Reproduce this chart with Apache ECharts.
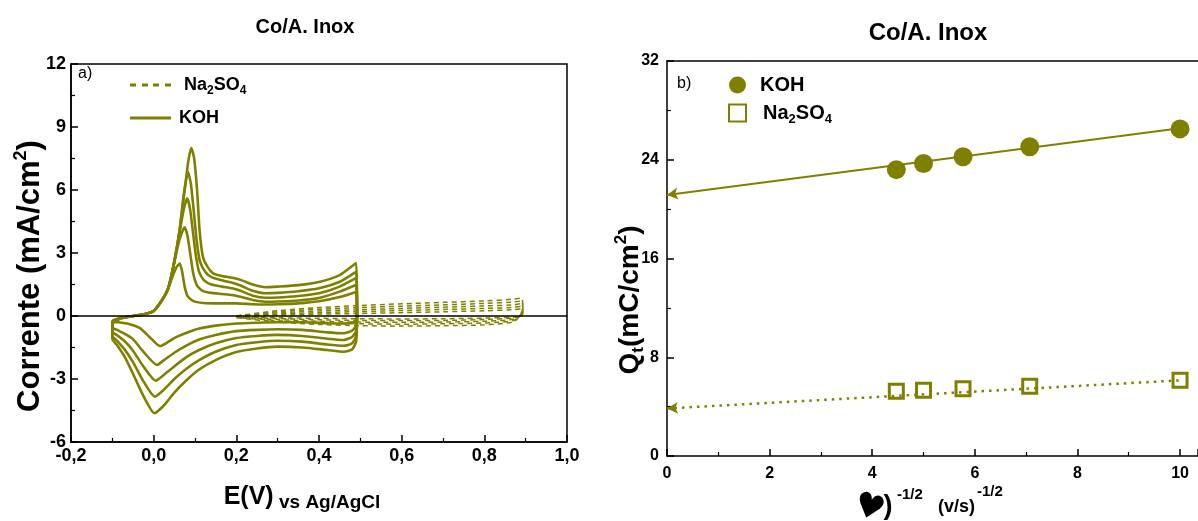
<!DOCTYPE html>
<html><head><meta charset="utf-8">
<script src="https://cdn.jsdelivr.net/npm/echarts@6/dist/echarts.min.js"></script>
<style>html,body{margin:0;padding:0;background:#fff}#c{width:1198px;height:521px}</style>
</head><body><div id="c"></div>
<script>
const OLIVE = '#808000';
const FONT = '"Liberation Sans", Arial, sans-serif';

// ---------- Panel a) cyclic voltammograms: [E (V vs Ag/AgCl), I (mA/cm2)] ----------
const kohCV1 = [[-0.100,-0.35],[-0.08,-0.12],[-0.05,0.0],[-0.02,0.1],[0.0,0.24],[0.02,0.75],[0.035,1.3],[0.05,2.6],[0.063,4.1],[0.075,6.0],[0.084,7.4],[0.091,8.0],[0.098,7.5],[0.105,6.0],[0.111,4.1],[0.119,2.83],[0.13,2.35],[0.144,2.03],[0.165,1.9],[0.19,1.82],[0.21,1.72],[0.24,1.5],[0.27,1.37],[0.30,1.4],[0.35,1.47],[0.40,1.62],[0.45,1.95],[0.49,2.52],
  [0.492,0.5],[0.49,-1.2],[0.48,-1.6],[0.46,-1.7],[0.42,-1.62],[0.36,-1.5],[0.30,-1.46],[0.25,-1.55],[0.20,-1.72],[0.15,-2.1],[0.11,-2.55],[0.08,-3.05],[0.05,-3.65],[0.025,-4.25],[0.002,-4.63],[-0.025,-3.8],[-0.05,-2.75],[-0.07,-1.95],[-0.09,-1.35],[-0.10,-1.1],[-0.100,-0.35]];
const kohCV2 = [[-0.100,-0.32],[-0.08,-0.11],[-0.05,0.0],[-0.02,0.1],[0.0,0.24],[0.02,0.75],[0.035,1.3],[0.05,2.6],[0.062,4.0],[0.073,5.8],[0.083,6.85],[0.09,6.3],[0.097,5.0],[0.104,3.6],[0.112,2.6],[0.125,2.1],[0.14,1.85],[0.165,1.7],[0.19,1.58],[0.21,1.45],[0.24,1.2],[0.27,1.08],[0.30,1.1],[0.35,1.18],[0.40,1.32],[0.45,1.63],[0.49,2.1],
  [0.492,0.3],[0.49,-0.95],[0.48,-1.3],[0.46,-1.42],[0.42,-1.36],[0.36,-1.22],[0.30,-1.18],[0.25,-1.25],[0.20,-1.38],[0.15,-1.7],[0.11,-2.1],[0.08,-2.5],[0.05,-3.0],[0.025,-3.5],[0.003,-3.84],[-0.025,-3.1],[-0.05,-2.2],[-0.07,-1.6],[-0.09,-1.15],[-0.10,-0.95],[-0.100,-0.32]];
const kohCV3 = [[-0.100,-0.28],[-0.08,-0.1],[-0.05,0.0],[-0.02,0.1],[0.0,0.24],[0.02,0.75],[0.035,1.3],[0.05,2.6],[0.062,3.9],[0.072,5.0],[0.081,5.6],[0.088,5.1],[0.095,4.0],[0.102,2.9],[0.11,2.1],[0.122,1.7],[0.14,1.5],[0.165,1.4],[0.19,1.32],[0.21,1.2],[0.24,0.97],[0.27,0.87],[0.30,0.88],[0.35,0.95],[0.40,1.08],[0.45,1.4],[0.49,1.81],
  [0.492,0.2],[0.49,-0.7],[0.48,-1.0],[0.46,-1.14],[0.42,-1.08],[0.36,-0.95],[0.30,-0.9],[0.25,-0.95],[0.20,-1.05],[0.15,-1.3],[0.11,-1.62],[0.08,-1.95],[0.05,-2.4],[0.025,-2.8],[0.005,-3.08],[-0.025,-2.4],[-0.05,-1.65],[-0.07,-1.2],[-0.09,-0.9],[-0.10,-0.75],[-0.100,-0.28]];
const kohCV4 = [[-0.100,-0.25],[-0.08,-0.09],[-0.05,0.0],[-0.02,0.1],[0.0,0.24],[0.02,0.75],[0.035,1.3],[0.05,2.55],[0.062,3.6],[0.075,4.22],[0.082,3.8],[0.089,2.9],[0.096,2.0],[0.105,1.45],[0.118,1.2],[0.14,1.1],[0.165,1.05],[0.19,1.0],[0.21,0.92],[0.24,0.76],[0.27,0.68],[0.30,0.69],[0.35,0.74],[0.40,0.86],[0.45,1.16],[0.49,1.48],
  [0.492,0.1],[0.49,-0.45],[0.48,-0.7],[0.46,-0.82],[0.42,-0.78],[0.36,-0.66],[0.30,-0.63],[0.25,-0.66],[0.20,-0.72],[0.15,-0.9],[0.11,-1.12],[0.08,-1.4],[0.05,-1.75],[0.025,-2.1],[0.008,-2.33],[-0.025,-1.7],[-0.05,-1.1],[-0.07,-0.85],[-0.09,-0.65],[-0.10,-0.55],[-0.100,-0.25]];
const kohCV5 = [[-0.100,-0.22],[-0.08,-0.08],[-0.05,0.0],[-0.02,0.1],[0.0,0.24],[0.02,0.75],[0.035,1.3],[0.047,1.95],[0.056,2.35],[0.063,2.5],[0.069,2.1],[0.075,1.4],[0.082,0.95],[0.095,0.72],[0.12,0.62],[0.16,0.6],[0.2,0.6],[0.24,0.56],[0.27,0.55],[0.30,0.56],[0.35,0.6],[0.40,0.7],[0.45,0.9],[0.49,1.14],
  [0.492,0.1],[0.49,-0.2],[0.48,-0.32],[0.46,-0.36],[0.42,-0.34],[0.36,-0.3],[0.30,-0.3],[0.25,-0.32],[0.20,-0.36],[0.15,-0.46],[0.11,-0.6],[0.08,-0.8],[0.05,-1.05],[0.03,-1.3],[0.015,-1.43],[-0.01,-1.0],[-0.034,-0.57],[-0.06,-0.38],[-0.085,-0.3],[-0.10,-0.28],[-0.100,-0.22]];

const naCV1 = [[0.2,0.0],[0.3,0.25],[0.4,0.4],[0.5,0.5],[0.6,0.58],[0.7,0.65],[0.8,0.72],[0.87,0.8],[0.89,0.85],[0.893,0.4],[0.885,0.0],[0.87,-0.28],[0.8,-0.42],[0.7,-0.46],[0.6,-0.48],[0.5,-0.46],[0.4,-0.4],[0.3,-0.28],[0.2,-0.08]];
const naCV2 = [[0.2,0.0],[0.3,0.2],[0.4,0.32],[0.5,0.4],[0.6,0.47],[0.7,0.53],[0.8,0.6],[0.87,0.66],[0.89,0.72],[0.893,0.3],[0.885,0.0],[0.87,-0.22],[0.8,-0.33],[0.7,-0.37],[0.6,-0.39],[0.5,-0.37],[0.4,-0.32],[0.3,-0.22],[0.2,-0.07]];
const naCV3 = [[0.2,0.0],[0.3,0.15],[0.4,0.24],[0.5,0.3],[0.6,0.36],[0.7,0.42],[0.8,0.48],[0.87,0.53],[0.89,0.6],[0.893,0.2],[0.885,-0.02],[0.87,-0.16],[0.8,-0.25],[0.7,-0.29],[0.6,-0.3],[0.5,-0.29],[0.4,-0.25],[0.3,-0.17],[0.2,-0.06]];
const naCV4 = [[0.2,0.0],[0.3,0.1],[0.4,0.16],[0.5,0.21],[0.6,0.26],[0.7,0.31],[0.8,0.36],[0.87,0.41],[0.89,0.47],[0.893,0.15],[0.885,-0.02],[0.87,-0.1],[0.8,-0.17],[0.7,-0.21],[0.6,-0.22],[0.5,-0.21],[0.4,-0.18],[0.3,-0.12],[0.2,-0.04]];
const naCV5 = [[0.2,0.0],[0.3,0.05],[0.4,0.09],[0.5,0.12],[0.6,0.16],[0.7,0.2],[0.8,0.25],[0.87,0.3],[0.89,0.35],[0.893,0.1],[0.885,-0.02],[0.87,-0.05],[0.8,-0.1],[0.7,-0.13],[0.6,-0.14],[0.5,-0.13],[0.4,-0.11],[0.3,-0.08],[0.2,-0.02]];

const kohCVs = [kohCV1, kohCV2, kohCV3, kohCV4, kohCV5];
const naCVs = [naCV1, naCV2, naCV3, naCV4, naCV5];

// ---------- Panel b) charge vs (scan rate)^-1/2 ----------
const qX   = [4.47, 5.0, 5.77, 7.07, 10.0];
const qKOH = [23.2, 23.7, 24.25, 25.05, 26.5];
const qNa  = [5.24, 5.32, 5.44, 5.65, 6.13];
const fitKOH = [[0, 21.15], [10, 26.55]];
const fitNa  = [[0, 3.85], [10, 6.13]];

const xTicksA = { min: -0.2, max: 1.0, interval: 0.2 };
const yTicksA = { min: -6, max: 12, interval: 3 };
const xTicksB = { min: 0, max: 10.35, interval: 2 };
const yTicksB = { min: 0, max: 32, interval: 8 };

const chart = echarts.init(document.getElementById('c'), null, { renderer: 'canvas' });

const axisCommon = (fs) => ({
  axisLine: { show: true, onZero: false, lineStyle: { color: '#000', width: 1.5 } },
  axisTick: { show: true, inside: true, length: 7, lineStyle: { color: '#000', width: 1.5 } },
  minorTick: { show: true, splitNumber: 2, length: 4, lineStyle: { color: '#000', width: 1.2 } },
  splitLine: { show: false },
  axisLabel: { color: '#000', fontSize: fs, fontWeight: 'bold', fontFamily: FONT }
});

const series = [];
naCVs.forEach((d, i) => series.push({
  type: 'line', name: 'naCV', xAxisIndex: 0, yAxisIndex: 0, data: d,
  symbol: 'none', smooth: 0.3, silent: true,
  lineStyle: { color: OLIVE, width: 1.5, type: [5, 4] }, itemStyle: { color: OLIVE }, z: 2
}));
kohCVs.forEach((d, i) => series.push({
  type: 'line', name: 'kohCV', xAxisIndex: 0, yAxisIndex: 0, data: d,
  symbol: 'none', smooth: 0.2, silent: true,
  lineStyle: { color: OLIVE, width: 2.6 }, itemStyle: { color: OLIVE }, z: 3,
  markLine: i === 0 ? { silent: true, symbol: 'none', label: { show: false },
    lineStyle: { color: '#000', width: 1.5, type: 'solid' }, data: [{ yAxis: 0 }] } : undefined
}));
series.push({
  type: 'scatter', name: 'kohQ', xAxisIndex: 1, yAxisIndex: 1,
  data: qX.map((x, i) => [x, qKOH[i]]), symbol: 'circle', symbolSize: 19,
  itemStyle: { color: OLIVE, opacity: 1 }, z: 4,
  markLine: { silent: true, symbol: ['arrow', 'none'], symbolSize: [9, 11], label: { show: false },
    lineStyle: { color: OLIVE, width: 2, type: 'solid' },
    data: [[{ coord: fitKOH[0] }, { coord: fitKOH[1] }]] }
});
series.push({
  type: 'scatter', name: 'naQ', xAxisIndex: 1, yAxisIndex: 1,
  data: qX.map((x, i) => [x, qNa[i]]), symbol: 'rect', symbolSize: 14,
  itemStyle: { color: 'rgba(255,255,255,0)', borderColor: OLIVE, borderWidth: 3, opacity: 1 }, z: 4,
  markLine: { silent: true, symbol: ['arrow', 'none'], symbolSize: [9, 11], label: { show: false },
    lineStyle: { color: OLIVE, width: 2.5, type: [2.5, 5] },
    data: [[{ coord: fitNa[0] }, { coord: fitNa[1] }]] }
});

const tok = (size, extra) => Object.assign({ fontSize: size, fontWeight: 'bold', fontFamily: FONT, color: '#000' }, extra || {});
const legendRich = {
  b: tok(18, { lineHeight: 24 }),
  na: tok(18, { lineHeight: 24, padding: [0, 0, 0, 8] }),
  k: tok(18, { lineHeight: 24, padding: [0, 0, 0, 3] }),
  s: tok(12, { lineHeight: 12, verticalAlign: 'bottom' }),
  rb: tok(20, { lineHeight: 26 }),
  kr: tok(20, { lineHeight: 26, padding: [0, 0, 0, 9] }),
  nr: tok(20, { lineHeight: 26, padding: [0, 0, 0, 12] }),
  rs: tok(13, { lineHeight: 13, verticalAlign: 'bottom' })
};

const option = {
  animation: false,
  backgroundColor: '#fff',
  grid: [
    { left: 71, top: 64, right: 631, bottom: 79, show: true, borderColor: '#000', borderWidth: 1.5, outerBoundsMode: 'none', containLabel: false },
    { left: 667, top: 61, right: 0, bottom: 65, outerBoundsMode: 'none', containLabel: false }
  ],
  xAxis: [
    Object.assign({ gridIndex: 0, type: 'value', ...xTicksA }, axisCommon(18), {
      axisLabel: { color: '#000', fontSize: 18, fontWeight: 'bold', fontFamily: FONT, margin: 5,
        formatter: v => v.toFixed(1).replace('.', ',') } }),
    Object.assign({ gridIndex: 1, type: 'value', ...xTicksB }, axisCommon(16), {
      axisLabel: { color: '#000', fontSize: 16, fontWeight: 'bold', fontFamily: FONT, margin: 10, showMaxLabel: false,
        formatter: v => (Math.abs(v - Math.round(v)) < 1e-6 ? String(Math.round(v)) : '') } }),
    { gridIndex: 1, type: 'value', position: 'top', ...xTicksB,
      axisLine: { show: true, onZero: false, lineStyle: { color: '#000', width: 1.5 } },
      axisTick: { show: false }, axisLabel: { show: false }, splitLine: { show: false } }
  ],
  yAxis: [
    Object.assign({ gridIndex: 0, type: 'value', ...yTicksA }, axisCommon(18), {
      axisLabel: { color: '#000', fontSize: 18, fontWeight: 'bold', fontFamily: FONT, margin: 5 } }),
    Object.assign({ gridIndex: 1, type: 'value', ...yTicksB }, axisCommon(16), {
      axisLabel: { color: '#000', fontSize: 16, fontWeight: 'bold', fontFamily: FONT, margin: 8 } })
  ],
  legend: [
    { data: [
        { name: 'naCV', icon: 'path://M0,0h6v3h-6z M12,0h6v3h-6z M23,0h6v3h-6z M35,0h6v3h-6z' },
        { name: 'kohCV', icon: 'rect' } ],
      left: 130, top: 76, padding: 0, orient: 'vertical', itemWidth: 41, itemHeight: 3, itemGap: 12,
      selectedMode: false, formatter: n => n === 'naCV' ? '{na|Na}{s|2}{b|SO}{s|4}' : '{k|KOH}',
      textStyle: { rich: legendRich } },
    { data: [{ name: 'kohQ', icon: 'circle' }, { name: 'naQ', icon: 'rect' }], left: 728, top: 75, padding: 0, orient: 'vertical',
      itemWidth: 17, itemHeight: 17, itemGap: 8, selectedMode: false,
      formatter: n => n === 'naQ' ? '{nr|Na}{rs|2}{rb|SO}{rs|4}' : '{kr|KOH}',
      textStyle: { rich: legendRich } }
  ],
  graphic: [
    { type: 'text', x: 305, y: 27, style: { text: 'Co/A. Inox', font: 'bold 20px ' + FONT, fill: '#000', align: 'center', verticalAlign: 'middle' } },
    { type: 'text', x: 928, y: 33, style: { text: 'Co/A. Inox', font: 'bold 24px ' + FONT, fill: '#000', align: 'center', verticalAlign: 'middle' } },
    { type: 'text', x: 78, y: 74, style: { text: 'a)', font: '16px ' + FONT, fill: '#000', align: 'left', verticalAlign: 'middle' } },
    { type: 'text', x: 677, y: 84, style: { text: 'b)', font: '16px ' + FONT, fill: '#000', align: 'left', verticalAlign: 'middle' } },
    { type: 'text', x: 302, y: 497, style: {
      text: '{big|E(V)}{sm| vs Ag/AgCl}', align: 'center', verticalAlign: 'middle', fill: '#000',
      rich: { big: { fontSize: 25, fontWeight: 'bold', fontFamily: FONT, fill: '#000', lineHeight: 30 },
              sm: { fontSize: 19, fontWeight: 'bold', fontFamily: FONT, fill: '#000', lineHeight: 24, verticalAlign: 'bottom' } } } },
    { type: 'text', x: 30, y: 276, rotation: Math.PI / 2, style: {
      text: '{b|Corrente (mA/cm}{p|2}{b|)}', align: 'center', verticalAlign: 'middle', fill: '#000',
      rich: { b: { fontSize: 31, fontWeight: 'bold', fontFamily: FONT, fill: '#000', lineHeight: 36 },
              p: { fontSize: 18, fontWeight: 'bold', fontFamily: FONT, fill: '#000', lineHeight: 18, verticalAlign: 'top' } } } },
    { type: 'text', x: 630, y: 300, rotation: Math.PI / 2, style: {
      text: '{b|Q}{s|t}{b|(mC/cm}{p|2}{b|)}', align: 'center', verticalAlign: 'middle', fill: '#000',
      rich: { b: { fontSize: 28, fontWeight: 'bold', fontFamily: FONT, fill: '#000', lineHeight: 34 },
              s: { fontSize: 17, fontWeight: 'bold', fontFamily: FONT, fill: '#000', lineHeight: 17, verticalAlign: 'bottom' },
              p: { fontSize: 17, fontWeight: 'bold', fontFamily: FONT, fill: '#000', lineHeight: 17, verticalAlign: 'top' } } } },
    { type: 'text', x: 869, y: 509, rotation: -0.3, style: { text: '\u2665', font: 'bold 34px "DejaVu Sans"', fill: '#000', align: 'center', verticalAlign: 'middle' } },
    { type: 'text', x: 888, y: 507, style: { text: ')', font: 'bold 27px ' + FONT, fill: '#000', align: 'center', verticalAlign: 'middle' } },
    { type: 'text', x: 897, y: 495, style: { text: '-1/2', font: 'bold 15px ' + FONT, fill: '#000', align: 'left', verticalAlign: 'middle' } },
    { type: 'text', x: 938, y: 507, style: { text: '(v/s)', font: 'bold 18px ' + FONT, fill: '#000', align: 'left', verticalAlign: 'middle' } },
    { type: 'text', x: 977, y: 492, style: { text: '-1/2', font: 'bold 15px ' + FONT, fill: '#000', align: 'left', verticalAlign: 'middle' } }
  ],
  series: series
};
chart.setOption(option);
</script>
</body></html>
